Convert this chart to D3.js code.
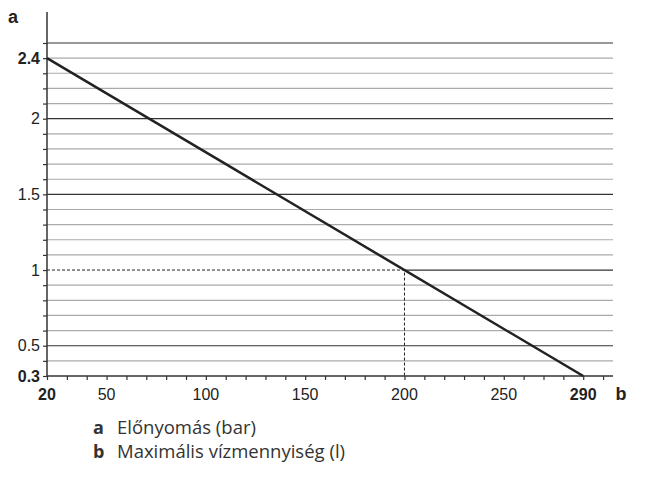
<!DOCTYPE html>
<html>
<head>
<meta charset="utf-8">
<script src="https://cdn.jsdelivr.net/npm/d3@7"></script>
<style>
  body { margin: 0; background: #fff; }
</style>
</head>
<body>
<svg id="chart" width="655" height="481"></svg>
<script>
// Data
var lineX = [20, 290];
var lineY = [2.4, 0.3];
var markX = 200, markY = 1;
var xTicks = [20, 50, 100, 150, 200, 250, 290];
var xBold = [20, 290];
var yTicks = [0.3, 0.5, 1, 1.5, 2, 2.4];
var yBold = [0.3, 2.4];
var majorY = [0.5, 1, 1.5, 2, 2.5];
var legendKeys = ["a", "b"];
var legendLabels = ["Előnyomás (bar)", "Maximális vízmennyiség (l)"];

var axisFont = "'Liberation Sans', Arial, sans-serif";
var legendFont = "'Open Sans', sans-serif";

var svg = d3.select("#chart");

// scales
var x = d3.scaleLinear().domain([20, 305]).range([47, 613]);
var y = d3.scaleLinear().domain([0.3, 2.5]).range([376, 43]);

// gridlines every 0.1
var gridVals = d3.range(4, 26).map(d => d / 10);
svg.append("g").selectAll("line")
  .data(gridVals)
  .enter().append("line")
  .attr("x1", d => Math.abs(d - markY) < 1e-6 ? x(markX) : x(20))
  .attr("x2", x(305))
  .attr("y1", d => y(d)).attr("y2", d => y(d))
  .style("stroke", d => majorY.some(m => Math.abs(m - d) < 1e-6) ? "#333" : "#aaa")
  .style("stroke-width", 1.2);

// dashed guide
svg.append("path")
  .attr("d", `M${x(20)},${y(markY)}H${x(markX)}V${y(0.3)}`)
  .style("fill", "none")
  .style("stroke", "#222")
  .style("stroke-width", 1)
  .style("stroke-dasharray", "3,2");

// y axis
var yAxis = d3.axisLeft(y).tickValues(d3.range(3, 26).map(d => d / 10)).tickSize(4).tickFormat("");
var gy = svg.append("g").attr("transform", `translate(${x(20)},0)`).call(yAxis);
gy.select(".domain").remove();
gy.selectAll(".tick line").style("stroke", "#333").style("stroke-width", 1.2);
svg.append("line")
  .attr("x1", x(20)).attr("x2", x(20))
  .attr("y1", 12).attr("y2", y(0.3))
  .style("stroke", "#333").style("stroke-width", 1.5);

svg.append("g").selectAll("text")
  .data(yTicks)
  .enter().append("text")
  .attr("x", 40)
  .attr("y", d => y(d) + 5.5)
  .attr("text-anchor", "end")
  .style("font-family", axisFont)
  .style("font-size", "16px")
  .style("fill", "#222")
  .style("font-weight", d => yBold.includes(d) ? "bold" : "normal")
  .text(d => d);

// x axis
var xAxis = d3.axisBottom(x).tickValues(d3.range(20, 310, 10)).tickSize(4).tickFormat("");
var gx = svg.append("g").attr("transform", `translate(0,${y(0.3)})`).call(xAxis);
gx.select(".domain").remove();
gx.selectAll(".tick line").style("stroke", "#333").style("stroke-width", 1.2);
svg.append("line")
  .attr("x1", x(20)).attr("x2", x(305))
  .attr("y1", y(0.3)).attr("y2", y(0.3))
  .style("stroke", "#333").style("stroke-width", 1.5);

svg.append("g").selectAll("text")
  .data(xTicks)
  .enter().append("text")
  .attr("x", d => x(d))
  .attr("y", 400)
  .attr("text-anchor", "middle")
  .style("font-family", axisFont)
  .style("font-size", "16px")
  .style("fill", "#222")
  .style("font-weight", d => xBold.includes(d) ? "bold" : "normal")
  .text(d => d);

// axis letters
svg.append("text").attr("x", 13).attr("y", 23).attr("text-anchor", "middle")
  .style("font-family", axisFont).style("fill", "#222")
  .style("font-size", "18px").style("font-weight", "bold").text("a");
svg.append("text").attr("x", 621).attr("y", 400).attr("text-anchor", "middle")
  .style("font-family", axisFont).style("fill", "#222")
  .style("font-size", "18px").style("font-weight", "bold").text("b");

// main line
var line = d3.line().x(d => x(d[0])).y(d => y(d[1]));
svg.append("path")
  .datum(d3.zip(lineX, lineY))
  .attr("d", line)
  .style("fill", "none")
  .style("stroke", "#222")
  .style("stroke-width", 2.5);

// legend
var rows = svg.append("g").selectAll("g")
  .data(legendKeys)
  .enter().append("g")
  .attr("transform", (d, i) => `translate(93,${434 + i * 24})`);
rows.append("text")
  .style("font-family", legendFont).style("fill", "#333")
  .style("font-size", "18px").style("font-weight", "bold")
  .text(d => d);
rows.append("text")
  .attr("x", 24)
  .style("font-family", legendFont).style("fill", "#333")
  .style("font-size", "18.5px")
  .text((d, i) => legendLabels[i]);
</script>
</body>
</html>
